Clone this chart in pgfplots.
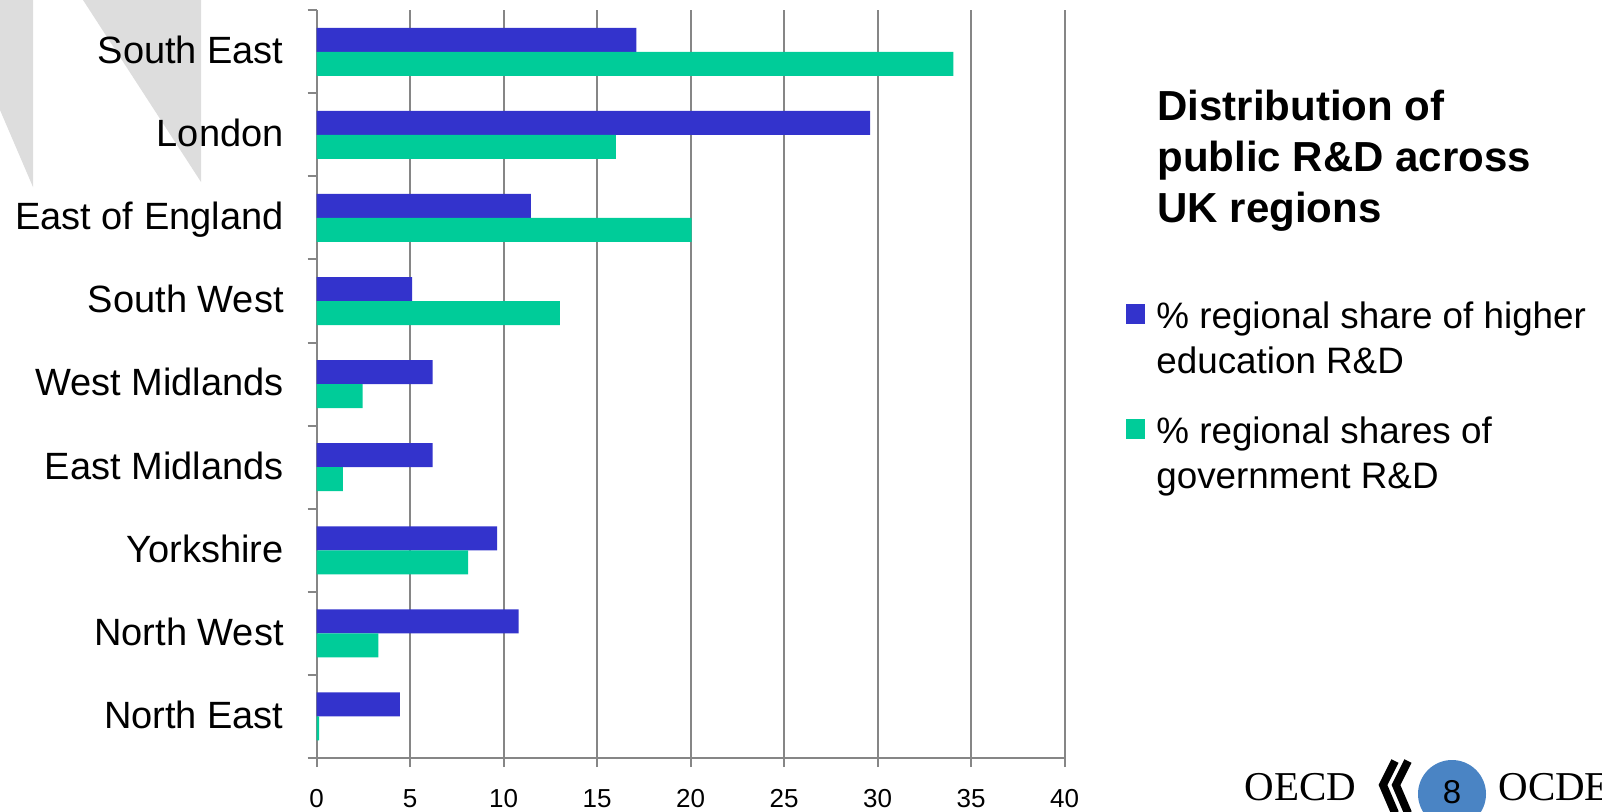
\documentclass[border=0pt]{standalone}
\usepackage{pgfplots}
\pgfplotsset{compat=1.18}
\usepackage{fontspec}
\setmainfont{Liberation Sans}
\newfontfamily\seriffont{Liberation Serif}
\definecolor{barblue}{RGB}{51,51,204}
\definecolor{bargreen}{RGB}{0,204,153}
\definecolor{gridgray}{RGB}{134,134,134}
\definecolor{stripe}{RGB}{221,221,221}
\definecolor{logoblue}{RGB}{74,132,196}
\begin{document}
\begin{tikzpicture}
\path[use as bounding box] (0pt,0pt) rectangle (801pt,405.5pt);
\begin{scope}
\clip (0pt,0pt) rectangle (801pt,405.5pt);
\fill[stripe] (0pt,405.5pt) -- (16.5pt,405.5pt) -- (16.5pt,312pt) -- (0pt,350.5pt) -- cycle;
\fill[stripe] (41.5pt,405.5pt) -- (100.5pt,405.5pt) -- (100.5pt,314.5pt) -- cycle;
\node[font=\seriffont\fontsize{20.5}{20.5}\selectfont, anchor=base west, inner sep=0pt] at (622pt,5.5pt) {OECD};
\draw[line width=4pt] (697.5pt,25pt) -- (691.5pt,13pt) -- (697.5pt,-1pt);
\draw[line width=4pt] (704pt,25pt) -- (698pt,13pt) -- (704pt,-1pt);
\fill[logoblue] (726pt,8.5pt) circle (17pt);
\node[font=\fontsize{16.5}{16.5}\selectfont, inner sep=0pt] at (726pt,9.5pt) {8};
\node[font=\seriffont\fontsize{20.5}{20.5}\selectfont, anchor=base west, inner sep=0pt] at (749pt,5.5pt) {OCDE};
\end{scope}
\begin{axis}[
  at={(158.35pt,26.5pt)}, anchor=south west,
  scale only axis, width=373.95pt, height=373.9pt,
  xmin=0, xmax=40, ymin=-0.5, ymax=8.5,
  axis lines=left,
  axis line style={-, gridgray, line width=1pt},
  xbar, bar width=12pt,
  xtick={0,5,...,40},
  minor xtick={0,5,...,40},
  ytick={0,...,8},
  minor ytick={-0.5,0.5,...,8.5},
  yticklabels={North East, North West, Yorkshire, East Midlands, West Midlands, South West, East of England, London\hspace{5pt}, South East},
  major tick length=0pt,
  minor tick length=4.5pt,
  tick align=outside,
  major tick style={draw=none},
  minor tick style={gridgray, line width=1pt},
  xmajorgrids, major grid style={gridgray, line width=1pt},
  x tick label style={font=\fontsize{13}{13}\selectfont, anchor=base, inner sep=0pt, yshift=-24.5pt},
  y tick label style={font=\fontsize{19}{19}\selectfont, anchor=base east, inner sep=0pt, xshift=-16.35pt, yshift=-5.9pt},
  /pgf/number format/assume math mode=true,
  legend style={draw=none, fill=none, inner sep=0pt, outer sep=0pt,
    at={(axis description cs:1.0821,0.6171)}, anchor=north west,
    row sep=40.4pt, column sep=5.5pt, nodes={inner sep=0pt}},
  legend cell align=left,
  legend image code/.code={\fill[#1] (0pt,-4.85pt) rectangle (9.7pt,4.85pt);},
]
\addplot[fill=barblue, draw=none, bar shift=6pt] coordinates {
  (4.45,0) (10.8,1) (9.65,2) (6.2,3) (6.2,4) (5.1,5) (11.45,6) (29.6,7) (17.1,8)};
\addlegendentry{\parbox[t]{240pt}{\fontsize{18.4}{22.5}\selectfont\strut\%~regional share of higher\strut\\\strut education R\&D\strut}}
\addplot[fill=bargreen, draw=none, bar shift=-6pt] coordinates {
  (0.13,0) (3.3,1) (8.1,2) (1.4,3) (2.45,4) (13.0,5) (20.05,6) (16.0,7) (34.05,8)};
\addlegendentry{\parbox[t]{240pt}{\fontsize{18.4}{22.5}\selectfont\strut\%~regional shares of\strut\\\strut government R\&D\strut}}
\end{axis}
\node[anchor=base west, inner sep=0pt, font=\bfseries\fontsize{21}{25}\selectfont] at (578.5pt,345pt) {Distribution of};
\node[anchor=base west, inner sep=0pt, font=\bfseries\fontsize{21}{25}\selectfont] at (578.5pt,320pt) {public R\&D across};
\node[anchor=base west, inner sep=0pt, font=\bfseries\fontsize{21}{25}\selectfont] at (578.5pt,294.5pt) {UK regions};
\end{tikzpicture}
\end{document}
